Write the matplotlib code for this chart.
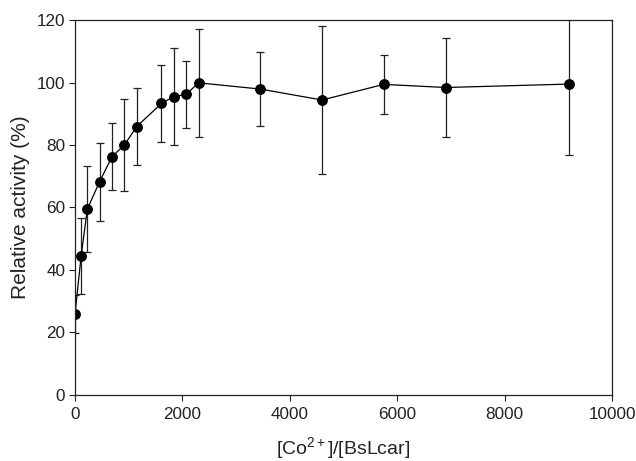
import matplotlib
matplotlib.use("Agg")
import matplotlib.pyplot as plt

plt.rcParams['font.family'] = ['Liberation Sans', 'DejaVu Sans']
plt.rcParams['mathtext.fontset'] = 'custom'
plt.rcParams['mathtext.rm'] = 'Liberation Sans'
plt.rcParams['mathtext.it'] = 'Liberation Sans:italic'
plt.rcParams['mathtext.bf'] = 'Liberation Sans:bold'

ratio = [0, 115, 230, 460, 690, 920, 1150, 1610, 1840, 2070, 2300, 3450, 4600, 5750, 6900, 9200]
activity = [25.9, 44.5, 59.5, 68.3, 76.3, 80.0, 85.9, 93.3, 95.5, 96.2, 99.9, 97.9, 94.4, 99.4, 98.4, 99.5]
error = [6.0, 12.1, 13.7, 12.5, 10.8, 14.7, 12.2, 12.3, 15.5, 10.7, 17.2, 11.8, 23.6, 9.5, 15.8, 22.7]

xticks = [0, 2000, 4000, 6000, 8000, 10000]
yticks = [0, 20, 40, 60, 80, 100, 120]

fig = plt.figure(figsize=(6.36, 4.61), dpi=100)
ax = fig.add_axes([0.1179, 0.1432, 0.8444, 0.8134])

ax.errorbar(ratio, activity, yerr=error, fmt='-o', color='black', ecolor='#222222',
            markersize=6.8, linewidth=0.9, elinewidth=0.9, capsize=3, capthick=0.9)

ax.set_xlim(0, 10000)
ax.set_ylim(0, 120)
ax.set_xticks(xticks)
ax.set_yticks(yticks)
ax.tick_params(direction='out', length=4, width=0.8, labelsize=12.3, colors='#222222')
ax.tick_params(axis='x', pad=5)
ax.tick_params(axis='y', pad=3)
for s in ax.spines.values():
    s.set_linewidth(0.9)
    s.set_color('#222222')

ax.set_xlabel(r"[Co$^{\mathrm{2+}}$]/[BsLcar]", fontsize=14, labelpad=9, color='#222222')
ax.set_ylabel("Relative activity (%)", fontsize=15, labelpad=5, color='#222222')

fig.savefig("out.png", dpi=100)
